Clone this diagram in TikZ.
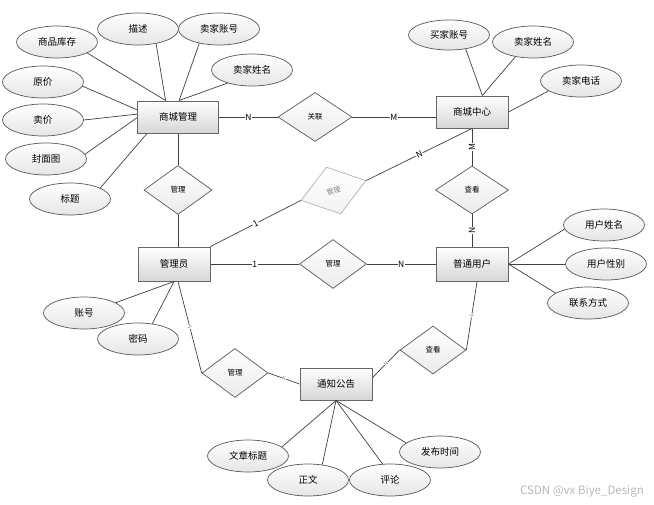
\documentclass[tikz,border=0pt]{standalone}
\usepackage{fontspec}
\setmainfont{Noto Sans CJK SC}
\usetikzlibrary{shapes.geometric}

\begin{document}
\begin{tikzpicture}[x=1pt,y=-1pt,
    entity/.style={rectangle,draw=black!60,line width=1pt,top color=white,
                   bottom color=black!16,minimum width=72pt,minimum height=32pt,
                   inner sep=0pt,font=\fontsize{9.5}{11}\selectfont},
    attr/.style={ellipse,draw=black!65,line width=0.7pt,top color=white,
                 bottom color=black!10,minimum width=81pt,minimum height=32pt,
                 inner sep=0pt,font=\fontsize{9.5}{11}\selectfont},
    rel/.style={diamond,draw=black!65,line width=0.7pt,top color=white,
                bottom color=black!8,minimum width=68pt,minimum height=49pt,
                inner sep=0pt,font=\fontsize{7.5}{9}\selectfont},
    every edge/.style={draw=black!75,line width=0.7pt},
    card/.style={fill=white,inner sep=0.6pt,font=\fontsize{8.5}{9}\selectfont},
    smallcard/.style={fill=white,inner sep=0.3pt,text=black!55,sloped,
                      font=\fontsize{5}{6}\selectfont}]
    \useasboundingbox (0,0) rectangle (654,504);

                \node[entity,minimum width=81pt] (scgl) at (178,117) {商城管理};
                \node[entity] (sczx) at (472,112) {商城中心};
                \node[entity,minimum height=34pt] (gly) at (174,264) {管理员};
                \node[entity,minimum height=34pt] (ptyh) at (472,264) {普通用户};
                \node[entity] (tzgg) at (336,384) {通知公告};

                \node[rel,minimum width=74pt] (gl) at (315,117) {关联};
                \node[rel] (gl1) at (178,190) {管理};
                \node[rel,minimum width=73pt,minimum height=48pt] (ck1) at (472,190) {查看};
                \node[rel,rotate=17,draw=black!30,text=black!50,bottom color=black!5,
                      font=\fontsize{7}{8}\selectfont] (gl2) at (333.5,190.5) {管理};
                \node[rel,minimum width=67pt] (gl3) at (333,264) {管理};
                \node[rel,minimum width=66pt] (gl4) at (235,373) {管理};
                \node[rel,minimum width=66pt,minimum height=48pt] (ck2) at (433,350) {查看};

                \node[attr] (spkc) at (57,42) {商品库存};
                \node[attr] (ms) at (138,29) {描述};
                \node[attr] (mjzh) at (219,29) {卖家账号};
                \node[attr] (mjxm) at (252,70) {卖家姓名};
                \node[attr] (yj) at (43,82) {原价};
                \node[attr] (mj) at (43,120) {卖价};
                \node[attr] (fmt) at (46,159) {封面图};
                \node[attr] (bt) at (70,199) {标题};

                \node[attr,minimum height=30pt] (bjzh) at (449,35) {买家账号};
                \node[attr] (mjxm2) at (533,42) {卖家姓名};
                \node[attr] (mjdh) at (581,81) {卖家电话};

                \node[attr] (yhxm) at (604,225) {用户姓名};
                \node[attr] (yhxb) at (606,264) {用户性别};
                \node[attr] (lxfs) at (588,303) {联系方式};

                \node[attr] (zh) at (84,313) {账号};
                \node[attr] (mm) at (138,339) {密码};

                \node[attr] (wzbt) at (248,456) {文章标题};
                \node[attr] (zw) at (308,480) {正文};
                \node[attr] (pl) at (390,480) {评论};
                \node[attr] (fbsj) at (440,452) {发布时间};

                \node[text=black!28,font=\fontsize{11.5}{13}\selectfont] (wm) at (582,491)
                    {CSDN @vx Biye\_Design};

    \path
    (scgl) edge node[card] {N} (gl)
    (gl.east) edge node[card] {M} (gl.east -| sczx.west)
    (scgl) edge (gl1)
    (gl1) edge (gl1 |- gly.north)

    (sczx) edge node[card,rotate=90] {M} (ck1)
    (ck1) edge node[card,rotate=90] {N} (ptyh)
    (gl2.east) edge node[card,sloped] {N} (sczx.south)
    (gly.north east) edge node[card,sloped] {1} (gl2.west)

    (gly) edge node[card] {1} (gl3)
    (gl3) edge node[card] {N} (ptyh)

    (gly.-77) edge node[smallcard] {1} (gl4.west)
    (gl4.east) edge node[smallcard] {N} (tzgg.west)
    (ptyh.-74) edge node[smallcard] {1} (ck2.east)
    (ck2.west) edge node[smallcard] {N} (tzgg.10)

    (spkc.-20) edge (scgl.127)
    (ms.-39) edge (scgl.127)
    (mjzh.216) edge (scgl.86)
    (mjxm.208) edge (scgl.86)
    (yj.-6) edge (scgl.170)
    (mj.east) edge (scgl.176)
    (fmt.7) edge (scgl.181)
    (bt.20) edge (scgl.208)

    (bjzh.-40) edge (sczx.58)
    (mjxm2.220) edge (sczx.58)
    (mjdh.197) edge (sczx.east)

    (yhxm.186) edge (ptyh.east)
    (yhxb.west) edge (ptyh.east)
    (lxfs.163) edge (ptyh.east)

    (zh.18) edge (gly.south)
    (mm.47) edge (gly.south)

    (wzbt.15) edge (tzgg.south)
    (zw.47) edge (tzgg.south)
    (pl.115) edge (tzgg.south)
    (fbsj.165) edge (tzgg.south);
            \end{tikzpicture}
\end{document}
